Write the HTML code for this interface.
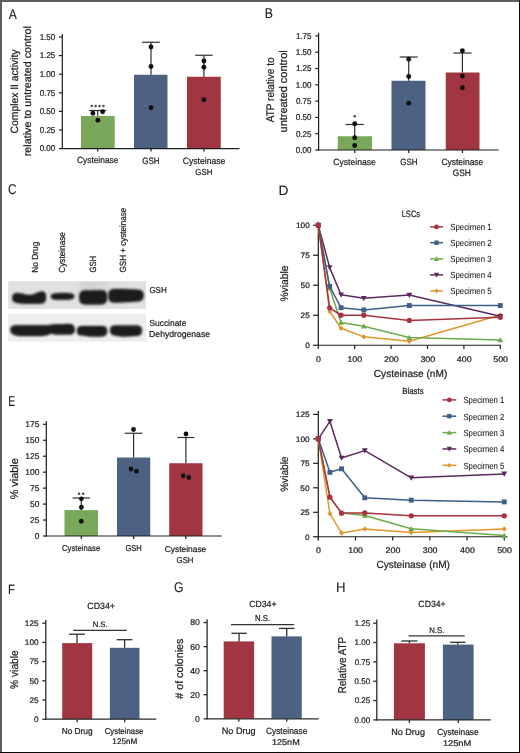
<!DOCTYPE html><html><head><meta charset="utf-8"><style>html,body{margin:0;padding:0;background:#fff;}body{width:520px;height:753px;overflow:hidden;position:relative;}svg{position:absolute;left:0;top:0;display:block;will-change:transform;}text{font-family:"Liberation Sans",sans-serif;text-rendering:geometricPrecision;stroke:#1c1c1c;stroke-width:0.22px;}</style></head><body>
<svg width="520" height="753" viewBox="0 0 520 753">
<defs><filter id="bl" x="-20%" y="-60%" width="140%" height="220%"><feGaussianBlur stdDeviation="0.9"/></filter><filter id="bl2" x="-10%" y="-30%" width="120%" height="160%"><feGaussianBlur stdDeviation="1.6"/></filter><filter id="bl3" x="-50%" y="-50%" width="200%" height="200%"><feGaussianBlur stdDeviation="3"/></filter><clipPath id="cb1"><rect x="8.5" y="281.5" width="137.3" height="27.3"/></clipPath><filter id="bgb" x="-5%" y="-10%" width="110%" height="120%"><feGaussianBlur stdDeviation="0.5"/></filter></defs>
<rect x="0" y="0" width="520" height="753" fill="#fff"/>
<text x="8.66" y="18.58" font-size="13.97" textLength="8.09" lengthAdjust="spacingAndGlyphs" fill="#1c1c1c" style="stroke-width:0.1px">A</text>
<text x="264.71" y="17.6" font-size="14.2" textLength="8.23" lengthAdjust="spacingAndGlyphs" fill="#1c1c1c" style="stroke-width:0.1px">B</text>
<text x="8.11" y="193.9" font-size="14.14" textLength="8.53" lengthAdjust="spacingAndGlyphs" fill="#1c1c1c" style="stroke-width:0.1px">C</text>
<text x="278.6" y="195.1" font-size="13.62" textLength="9.95" lengthAdjust="spacingAndGlyphs" fill="#1c1c1c" style="stroke-width:0.1px">D</text>
<text x="8.16" y="405.9" font-size="14.35" textLength="6.98" lengthAdjust="spacingAndGlyphs" fill="#1c1c1c" style="stroke-width:0.1px">E</text>
<text x="8.09" y="593.9" font-size="13.62" textLength="6.98" lengthAdjust="spacingAndGlyphs" fill="#1c1c1c" style="stroke-width:0.1px">F</text>
<text x="174.09" y="592.4" font-size="14.14" textLength="9.5" lengthAdjust="spacingAndGlyphs" fill="#1c1c1c" style="stroke-width:0.1px">G</text>
<text x="335.94" y="592.3" font-size="13.91" textLength="9.54" lengthAdjust="spacingAndGlyphs" fill="#1c1c1c" style="stroke-width:0.1px">H</text>
<line x1="62.3" y1="34" x2="62.3" y2="149.1" stroke="#1c1c1c" stroke-width="1.2"/>
<line x1="59" y1="148.6" x2="62.3" y2="148.6" stroke="#1c1c1c" stroke-width="1.2"/>
<text x="39.67" y="151.45" font-size="8.45" textLength="15.62" lengthAdjust="spacingAndGlyphs" fill="#1c1c1c">0.00</text>
<line x1="59" y1="130" x2="62.3" y2="130" stroke="#1c1c1c" stroke-width="1.2"/>
<text x="39.71" y="132.85" font-size="8.45" textLength="15.62" lengthAdjust="spacingAndGlyphs" fill="#1c1c1c">0.25</text>
<line x1="59" y1="111.4" x2="62.3" y2="111.4" stroke="#1c1c1c" stroke-width="1.2"/>
<text x="39.67" y="114.25" font-size="8.45" textLength="15.62" lengthAdjust="spacingAndGlyphs" fill="#1c1c1c">0.50</text>
<line x1="59" y1="92.8" x2="62.3" y2="92.8" stroke="#1c1c1c" stroke-width="1.2"/>
<text x="39.71" y="95.65" font-size="8.45" textLength="15.62" lengthAdjust="spacingAndGlyphs" fill="#1c1c1c">0.75</text>
<line x1="59" y1="74.2" x2="62.3" y2="74.2" stroke="#1c1c1c" stroke-width="1.2"/>
<text x="39.67" y="77.05" font-size="8.45" textLength="15.62" lengthAdjust="spacingAndGlyphs" fill="#1c1c1c">1.00</text>
<line x1="59" y1="55.6" x2="62.3" y2="55.6" stroke="#1c1c1c" stroke-width="1.2"/>
<text x="39.71" y="58.45" font-size="8.45" textLength="15.62" lengthAdjust="spacingAndGlyphs" fill="#1c1c1c">1.25</text>
<line x1="59" y1="37" x2="62.3" y2="37" stroke="#1c1c1c" stroke-width="1.2"/>
<text x="39.67" y="39.85" font-size="8.45" textLength="15.62" lengthAdjust="spacingAndGlyphs" fill="#1c1c1c">1.50</text>
<rect x="81" y="116" width="33.75" height="32.6" fill="#79a85b"/>
<rect x="134" y="74.75" width="33.5" height="73.85" fill="#4d6282"/>
<rect x="187" y="76.75" width="33.75" height="71.85" fill="#a13542"/>
<line x1="61.7" y1="148.6" x2="239.5" y2="148.6" stroke="#1c1c1c" stroke-width="1.2"/>
<line x1="97.7" y1="148.6" x2="97.7" y2="151.6" stroke="#1c1c1c" stroke-width="1.2"/>
<line x1="151" y1="148.6" x2="151" y2="151.6" stroke="#1c1c1c" stroke-width="1.2"/>
<line x1="203.9" y1="148.6" x2="203.9" y2="151.6" stroke="#1c1c1c" stroke-width="1.2"/>
<line x1="97.7" y1="110.5" x2="97.7" y2="116" stroke="#2e2e2e" stroke-width="1.2"/>
<line x1="89.1" y1="110.5" x2="106.3" y2="110.5" stroke="#2e2e2e" stroke-width="1.2"/>
<line x1="151" y1="42.25" x2="151" y2="74.75" stroke="#2e2e2e" stroke-width="1.2"/>
<line x1="142.1" y1="42.25" x2="159.9" y2="42.25" stroke="#2e2e2e" stroke-width="1.2"/>
<line x1="203.9" y1="55.25" x2="203.9" y2="76.75" stroke="#2e2e2e" stroke-width="1.2"/>
<line x1="195.15" y1="55.25" x2="212.65" y2="55.25" stroke="#2e2e2e" stroke-width="1.2"/>
<circle cx="92.9" cy="113.2" r="2.45" fill="#111"/>
<circle cx="102.6" cy="111.8" r="2.45" fill="#111"/>
<circle cx="97.9" cy="120.2" r="2.45" fill="#111"/>
<circle cx="151" cy="47" r="2.45" fill="#111"/>
<circle cx="151" cy="66.5" r="2.45" fill="#111"/>
<circle cx="151" cy="107.75" r="2.45" fill="#111"/>
<circle cx="203.9" cy="61" r="2.45" fill="#111"/>
<circle cx="203.9" cy="67.25" r="2.45" fill="#111"/>
<circle cx="203.9" cy="99.75" r="2.45" fill="#111"/>
<circle cx="91.75" cy="105.9" r="1.25" fill="#4a4a4a"/>
<circle cx="95.65" cy="105.9" r="1.25" fill="#4a4a4a"/>
<circle cx="99.55" cy="105.9" r="1.25" fill="#4a4a4a"/>
<circle cx="103.45" cy="105.9" r="1.25" fill="#4a4a4a"/>
<text x="76.98" y="163.3" font-size="9.01" textLength="41.41" lengthAdjust="spacingAndGlyphs" fill="#1c1c1c">Cysteinase</text>
<text x="142.2" y="163.5" font-size="9.3" textLength="17.46" lengthAdjust="spacingAndGlyphs" fill="#1c1c1c">GSH</text>
<text x="182.87" y="163.5" font-size="9.3" textLength="42.33" lengthAdjust="spacingAndGlyphs" fill="#1c1c1c">Cysteinase</text>
<text x="195.3" y="174.7" font-size="8.73" textLength="17.14" lengthAdjust="spacingAndGlyphs" fill="#1c1c1c">GSH</text>
<text x="17.6" y="133.42" font-size="10.7" textLength="83.9" lengthAdjust="spacingAndGlyphs" fill="#1c1c1c" transform="rotate(-90 17.6 133.42)">Complex II activity</text>
<text x="30.9" y="156.2" font-size="10.6" textLength="130.13" lengthAdjust="spacingAndGlyphs" fill="#1c1c1c" transform="rotate(-90 30.9 156.2)">relative to untreated control</text>
<line x1="318.6" y1="32.7" x2="318.6" y2="150.5" stroke="#1c1c1c" stroke-width="1.2"/>
<line x1="315.3" y1="150" x2="318.6" y2="150" stroke="#1c1c1c" stroke-width="1.2"/>
<text x="295.87" y="152.85" font-size="8.45" textLength="15.62" lengthAdjust="spacingAndGlyphs" fill="#1c1c1c">0.00</text>
<line x1="315.3" y1="133.7" x2="318.6" y2="133.7" stroke="#1c1c1c" stroke-width="1.2"/>
<text x="295.91" y="136.55" font-size="8.45" textLength="15.62" lengthAdjust="spacingAndGlyphs" fill="#1c1c1c">0.25</text>
<line x1="315.3" y1="117.4" x2="318.6" y2="117.4" stroke="#1c1c1c" stroke-width="1.2"/>
<text x="295.87" y="120.25" font-size="8.45" textLength="15.62" lengthAdjust="spacingAndGlyphs" fill="#1c1c1c">0.50</text>
<line x1="315.3" y1="101.1" x2="318.6" y2="101.1" stroke="#1c1c1c" stroke-width="1.2"/>
<text x="295.91" y="103.95" font-size="8.45" textLength="15.62" lengthAdjust="spacingAndGlyphs" fill="#1c1c1c">0.75</text>
<line x1="315.3" y1="84.8" x2="318.6" y2="84.8" stroke="#1c1c1c" stroke-width="1.2"/>
<text x="295.87" y="87.65" font-size="8.45" textLength="15.62" lengthAdjust="spacingAndGlyphs" fill="#1c1c1c">1.00</text>
<line x1="315.3" y1="68.5" x2="318.6" y2="68.5" stroke="#1c1c1c" stroke-width="1.2"/>
<text x="295.91" y="71.35" font-size="8.45" textLength="15.62" lengthAdjust="spacingAndGlyphs" fill="#1c1c1c">1.25</text>
<line x1="315.3" y1="52.2" x2="318.6" y2="52.2" stroke="#1c1c1c" stroke-width="1.2"/>
<text x="295.87" y="55.05" font-size="8.45" textLength="15.62" lengthAdjust="spacingAndGlyphs" fill="#1c1c1c">1.50</text>
<line x1="315.3" y1="35.9" x2="318.6" y2="35.9" stroke="#1c1c1c" stroke-width="1.2"/>
<text x="295.91" y="38.75" font-size="8.45" textLength="15.62" lengthAdjust="spacingAndGlyphs" fill="#1c1c1c">1.75</text>
<rect x="337.75" y="136.25" width="34.25" height="13.75" fill="#79a85b"/>
<rect x="391.5" y="80.75" width="34" height="69.25" fill="#4d6282"/>
<rect x="445.75" y="72.5" width="33.75" height="77.5" fill="#a13542"/>
<line x1="318" y1="150" x2="498.6" y2="150" stroke="#1c1c1c" stroke-width="1.2"/>
<line x1="354.7" y1="150" x2="354.7" y2="153" stroke="#1c1c1c" stroke-width="1.2"/>
<line x1="408.7" y1="150" x2="408.7" y2="153" stroke="#1c1c1c" stroke-width="1.2"/>
<line x1="462.4" y1="150" x2="462.4" y2="153" stroke="#1c1c1c" stroke-width="1.2"/>
<line x1="354.7" y1="124.5" x2="354.7" y2="136.25" stroke="#2e2e2e" stroke-width="1.2"/>
<line x1="345.6" y1="124.5" x2="363.8" y2="124.5" stroke="#2e2e2e" stroke-width="1.2"/>
<line x1="408.7" y1="57" x2="408.7" y2="80.75" stroke="#2e2e2e" stroke-width="1.2"/>
<line x1="399.7" y1="57" x2="417.7" y2="57" stroke="#2e2e2e" stroke-width="1.2"/>
<line x1="462.4" y1="53" x2="462.4" y2="72.5" stroke="#2e2e2e" stroke-width="1.2"/>
<line x1="453.3" y1="53" x2="471.5" y2="53" stroke="#2e2e2e" stroke-width="1.2"/>
<circle cx="354.7" cy="123.75" r="2.45" fill="#111"/>
<circle cx="354.7" cy="137.75" r="2.45" fill="#111"/>
<circle cx="354.7" cy="145.5" r="2.45" fill="#111"/>
<circle cx="408.7" cy="59.25" r="2.45" fill="#111"/>
<circle cx="408.7" cy="76.5" r="2.45" fill="#111"/>
<circle cx="408.7" cy="103.25" r="2.45" fill="#111"/>
<circle cx="462.4" cy="50.75" r="2.45" fill="#111"/>
<circle cx="462.4" cy="76" r="2.45" fill="#111"/>
<circle cx="462.4" cy="87.75" r="2.45" fill="#111"/>
<circle cx="354.7" cy="116.3" r="1.25" fill="#4a4a4a"/>
<text x="333.37" y="164.7" font-size="9.01" textLength="42.33" lengthAdjust="spacingAndGlyphs" fill="#1c1c1c">Cysteinase</text>
<text x="400.2" y="164.7" font-size="9.01" textLength="17.36" lengthAdjust="spacingAndGlyphs" fill="#1c1c1c">GSH</text>
<text x="441.38" y="164.8" font-size="9.15" textLength="41.92" lengthAdjust="spacingAndGlyphs" fill="#1c1c1c">Cysteinase</text>
<text x="452.68" y="175.8" font-size="9.3" textLength="18.1" lengthAdjust="spacingAndGlyphs" fill="#1c1c1c">GSH</text>
<text x="274.1" y="122.2" font-size="11.1" textLength="64.71" lengthAdjust="spacingAndGlyphs" fill="#1c1c1c" transform="rotate(-90 274.1 122.2)">ATP relative to</text>
<text x="287.4" y="132.41" font-size="11.1" textLength="82.12" lengthAdjust="spacingAndGlyphs" fill="#1c1c1c" transform="rotate(-90 287.4 132.41)">untreated control</text>
<text x="38" y="272.77" font-size="8.8" textLength="31.2" lengthAdjust="spacingAndGlyphs" fill="#1c1c1c" transform="rotate(-90 38 272.77)">No Drug</text>
<text x="65.4" y="272.71" font-size="8.9" textLength="40.59" lengthAdjust="spacingAndGlyphs" fill="#1c1c1c" transform="rotate(-90 65.4 272.71)">Cysteinase</text>
<text x="96.2" y="272.48" font-size="9" textLength="16.61" lengthAdjust="spacingAndGlyphs" fill="#1c1c1c" transform="rotate(-90 96.2 272.48)">GSH</text>
<text x="126.2" y="272.5" font-size="9" textLength="64.78" lengthAdjust="spacingAndGlyphs" fill="#1c1c1c" transform="rotate(-90 126.2 272.5)">GSH + cysteinase</text>
<g filter="url(#bgb)">
<rect x="8.2" y="281.2" width="137.8" height="27.8" fill="#e1e1e1"/>
<rect x="8.2" y="314" width="137.8" height="27.7" fill="#ededed"/>
</g>
<g clip-path="url(#cb1)"><rect x="80" y="279" width="27" height="17" fill="#d4d4d4" filter="url(#bl3)"/></g>
<g filter="url(#bl2)" fill="#555" opacity="0.35">
<path d="M12.3,298 C12.3,294 14.5,293 18,293 C22,293.2 25,294.9 30,294.9 C35,294.9 38,291.6 42,291.6 C45.2,291.6 46,293.8 46,297 C46,301.3 44.8,303.6 40,303.8 C30,304 20,303.8 16,302.7 C13,301.9 12.3,300.3 12.3,298 Z"/>
<path d="M50.8,296.4 C50.8,293.9 54,293.1 62,293.1 C70,293.1 74.2,293.6 74.2,296.4 C74.2,299.1 70,299.7 62,299.7 C54,299.7 50.8,299 50.8,296.4 Z"/>
<path d="M79.2,297.5 C79.2,292 81,290.6 86,290.5 C92,290.4 98,290.3 102,290.3 C106.2,290.4 107,293 107,297.5 C107,302.6 105.5,304.3 100,304.4 L86,304.4 C81,304.4 79.2,302.8 79.2,297.5 Z"/>
<path d="M108.3,295.6 C108.3,290.2 110.5,289 116,289 C125,289 133,289.3 138.5,289.8 C142.8,290.4 143.6,292.6 143.6,295.6 C143.6,299.4 142,301.3 137,301.5 C128,302 120,302.6 114,302.6 C109.8,302.6 108.3,300.5 108.3,295.6 Z"/>
<path d="M10.4,330 C10.4,326.3 12.5,325.3 18,325.3 L46,325.3 C50,325.3 52,324.2 56,324.2 L64,324.2 C68,323.9 70,323.7 72,324.4 C74.3,325.3 74.8,327.5 74.8,329.5 C74.8,332.7 73.2,334.5 69,334.5 L56,334.5 C53,334.5 52,333.6 50,333.8 C47,335.8 44,336 38,336 L22,336 C16,335.8 10.4,334.9 10.4,330 Z"/>
<path d="M77,330.8 C77,326.8 79,325.9 83,325.9 L101,325.9 C105.7,325.9 107.2,327.3 107.2,331 C107.2,335 105.2,336.5 100,336.5 L90,336.5 C87,336.5 86,335.6 83,335.6 C78.8,335.6 77,334.5 77,330.8 Z"/>
<path d="M110,330.4 C110,326.6 112,325.6 116,325.6 L136,325.6 C140.7,325.6 141.9,327.3 141.9,330.8 C141.9,334.5 140.2,335.9 135,336.1 C128,336.5 122,336.6 118,335.9 C112.8,335.3 110,334 110,330.4 Z"/>
</g>
<g filter="url(#bl)" fill="#1d1d1d">
<path d="M12.3,298 C12.3,294 14.5,293 18,293 C22,293.2 25,294.9 30,294.9 C35,294.9 38,291.6 42,291.6 C45.2,291.6 46,293.8 46,297 C46,301.3 44.8,303.6 40,303.8 C30,304 20,303.8 16,302.7 C13,301.9 12.3,300.3 12.3,298 Z"/>
<path d="M50.8,296.4 C50.8,293.9 54,293.1 62,293.1 C70,293.1 74.2,293.6 74.2,296.4 C74.2,299.1 70,299.7 62,299.7 C54,299.7 50.8,299 50.8,296.4 Z"/>
<path d="M79.2,297.5 C79.2,292 81,290.6 86,290.5 C92,290.4 98,290.3 102,290.3 C106.2,290.4 107,293 107,297.5 C107,302.6 105.5,304.3 100,304.4 L86,304.4 C81,304.4 79.2,302.8 79.2,297.5 Z"/>
<path d="M108.3,295.6 C108.3,290.2 110.5,289 116,289 C125,289 133,289.3 138.5,289.8 C142.8,290.4 143.6,292.6 143.6,295.6 C143.6,299.4 142,301.3 137,301.5 C128,302 120,302.6 114,302.6 C109.8,302.6 108.3,300.5 108.3,295.6 Z"/>
<path d="M10.4,330 C10.4,326.3 12.5,325.3 18,325.3 L46,325.3 C50,325.3 52,324.2 56,324.2 L64,324.2 C68,323.9 70,323.7 72,324.4 C74.3,325.3 74.8,327.5 74.8,329.5 C74.8,332.7 73.2,334.5 69,334.5 L56,334.5 C53,334.5 52,333.6 50,333.8 C47,335.8 44,336 38,336 L22,336 C16,335.8 10.4,334.9 10.4,330 Z"/>
<path d="M77,330.8 C77,326.8 79,325.9 83,325.9 L101,325.9 C105.7,325.9 107.2,327.3 107.2,331 C107.2,335 105.2,336.5 100,336.5 L90,336.5 C87,336.5 86,335.6 83,335.6 C78.8,335.6 77,334.5 77,330.8 Z"/>
<path d="M110,330.4 C110,326.6 112,325.6 116,325.6 L136,325.6 C140.7,325.6 141.9,327.3 141.9,330.8 C141.9,334.5 140.2,335.9 135,336.1 C128,336.5 122,336.6 118,335.9 C112.8,335.3 110,334 110,330.4 Z"/>
</g>
<text x="149.4" y="292.5" font-size="8.7" textLength="17.36" lengthAdjust="spacingAndGlyphs" fill="#1c1c1c">GSH</text>
<text x="149.42" y="325.9" font-size="8.7" textLength="36.97" lengthAdjust="spacingAndGlyphs" fill="#1c1c1c">Succinate</text>
<text x="149.11" y="336.8" font-size="8.7" textLength="60.88" lengthAdjust="spacingAndGlyphs" fill="#1c1c1c">Dehydrogenase</text>
<line x1="318.3" y1="221.7" x2="318.3" y2="345.25" stroke="#1c1c1c" stroke-width="1.2"/>
<line x1="313.1" y1="345.25" x2="318.3" y2="345.25" stroke="#1c1c1c" stroke-width="1.2"/>
<text x="305.19" y="348" font-size="7.9" textLength="4.61" lengthAdjust="spacingAndGlyphs" fill="#1c1c1c">0</text>
<line x1="313.1" y1="315.25" x2="318.3" y2="315.25" stroke="#1c1c1c" stroke-width="1.2"/>
<text x="300.62" y="318" font-size="7.9" textLength="9.23" lengthAdjust="spacingAndGlyphs" fill="#1c1c1c">25</text>
<line x1="313.1" y1="285.25" x2="318.3" y2="285.25" stroke="#1c1c1c" stroke-width="1.2"/>
<text x="300.58" y="288" font-size="7.9" textLength="9.23" lengthAdjust="spacingAndGlyphs" fill="#1c1c1c">50</text>
<line x1="313.1" y1="255.25" x2="318.3" y2="255.25" stroke="#1c1c1c" stroke-width="1.2"/>
<text x="300.62" y="258" font-size="7.9" textLength="9.23" lengthAdjust="spacingAndGlyphs" fill="#1c1c1c">75</text>
<line x1="313.1" y1="225.25" x2="318.3" y2="225.25" stroke="#1c1c1c" stroke-width="1.2"/>
<text x="295.98" y="228" font-size="7.9" textLength="13.84" lengthAdjust="spacingAndGlyphs" fill="#1c1c1c">100</text>
<line x1="317.7" y1="345.25" x2="500.9" y2="345.25" stroke="#1c1c1c" stroke-width="1.2"/>
<line x1="318.3" y1="345.25" x2="318.3" y2="349.05" stroke="#1c1c1c" stroke-width="1.2"/>
<text x="316.12" y="362" font-size="8.2" textLength="4.93" lengthAdjust="spacingAndGlyphs" fill="#1c1c1c">0</text>
<line x1="354.7" y1="345.25" x2="354.7" y2="349.05" stroke="#1c1c1c" stroke-width="1.2"/>
<text x="347.45" y="362" font-size="8.2" textLength="14.78" lengthAdjust="spacingAndGlyphs" fill="#1c1c1c">100</text>
<line x1="391.1" y1="345.25" x2="391.1" y2="349.05" stroke="#1c1c1c" stroke-width="1.2"/>
<text x="383.96" y="362" font-size="8.2" textLength="14.78" lengthAdjust="spacingAndGlyphs" fill="#1c1c1c">200</text>
<line x1="427.5" y1="345.25" x2="427.5" y2="349.05" stroke="#1c1c1c" stroke-width="1.2"/>
<text x="420.41" y="362" font-size="8.2" textLength="14.78" lengthAdjust="spacingAndGlyphs" fill="#1c1c1c">300</text>
<line x1="463.9" y1="345.25" x2="463.9" y2="349.05" stroke="#1c1c1c" stroke-width="1.2"/>
<text x="456.89" y="362" font-size="8.2" textLength="14.78" lengthAdjust="spacingAndGlyphs" fill="#1c1c1c">400</text>
<line x1="500.3" y1="345.25" x2="500.3" y2="349.05" stroke="#1c1c1c" stroke-width="1.2"/>
<text x="493.21" y="362" font-size="8.2" textLength="14.78" lengthAdjust="spacingAndGlyphs" fill="#1c1c1c">500</text>
<polyline points="318.3,225.25 329.68,311.41 341.05,328.21 363.8,336.85 409.3,341.29 500.3,315.01" fill="none" stroke="#e0962c" stroke-width="1.5" stroke-linejoin="round"/>
<path d="M318.3,222.56 L320.75,225.25 L318.3,227.94 L315.85,225.25 Z" fill="#e0962c"/>
<path d="M329.68,308.72 L332.12,311.41 L329.68,314.11 L327.23,311.41 Z" fill="#e0962c"/>
<path d="M341.05,325.51 L343.5,328.21 L341.05,330.9 L338.6,328.21 Z" fill="#e0962c"/>
<path d="M363.8,334.16 L366.25,336.85 L363.8,339.55 L361.35,336.85 Z" fill="#e0962c"/>
<path d="M409.3,338.6 L411.75,341.29 L409.3,343.99 L406.85,341.29 Z" fill="#e0962c"/>
<path d="M500.3,312.31 L502.75,315.01 L500.3,317.7 L497.85,315.01 Z" fill="#e0962c"/>
<polyline points="318.3,225.25 329.68,267.49 341.05,294.85 363.8,298.33 409.3,295.09 500.3,316.21" fill="none" stroke="#5a2b5c" stroke-width="1.5" stroke-linejoin="round"/>
<path d="M318.3,228.07 L321.24,222.92 L315.36,222.92 Z" fill="#5a2b5c"/>
<path d="M329.68,270.31 L332.62,265.16 L326.74,265.16 Z" fill="#5a2b5c"/>
<path d="M341.05,297.67 L343.99,292.52 L338.11,292.52 Z" fill="#5a2b5c"/>
<path d="M363.8,301.15 L366.74,296 L360.86,296 Z" fill="#5a2b5c"/>
<path d="M409.3,297.91 L412.24,292.76 L406.36,292.76 Z" fill="#5a2b5c"/>
<path d="M500.3,319.03 L503.24,313.88 L497.36,313.88 Z" fill="#5a2b5c"/>
<polyline points="318.3,225.25 329.68,288.25 341.05,322.45 363.8,326.17 409.3,337.57 500.3,339.97" fill="none" stroke="#6cab4c" stroke-width="1.5" stroke-linejoin="round"/>
<path d="M318.3,222.43 L321.24,227.58 L315.36,227.58 Z" fill="#6cab4c"/>
<path d="M329.68,285.43 L332.62,290.58 L326.74,290.58 Z" fill="#6cab4c"/>
<path d="M341.05,319.63 L343.99,324.78 L338.11,324.78 Z" fill="#6cab4c"/>
<path d="M363.8,323.35 L366.74,328.5 L360.86,328.5 Z" fill="#6cab4c"/>
<path d="M409.3,334.75 L412.24,339.9 L406.36,339.9 Z" fill="#6cab4c"/>
<path d="M500.3,337.15 L503.24,342.3 L497.36,342.3 Z" fill="#6cab4c"/>
<polyline points="318.3,225.25 329.68,286.45 341.05,307.69 363.8,309.97 409.3,305.53 500.3,305.53" fill="none" stroke="#3e5f87" stroke-width="1.5" stroke-linejoin="round"/>
<rect x="315.85" y="222.8" width="4.9" height="4.9" fill="#3e5f87"/>
<rect x="327.23" y="284" width="4.9" height="4.9" fill="#3e5f87"/>
<rect x="338.6" y="305.24" width="4.9" height="4.9" fill="#3e5f87"/>
<rect x="361.35" y="307.52" width="4.9" height="4.9" fill="#3e5f87"/>
<rect x="406.85" y="303.08" width="4.9" height="4.9" fill="#3e5f87"/>
<rect x="497.85" y="303.08" width="4.9" height="4.9" fill="#3e5f87"/>
<polyline points="318.3,225.25 329.68,307.81 341.05,315.25 363.8,315.25 409.3,320.41 500.3,317.29" fill="none" stroke="#a8323f" stroke-width="1.5" stroke-linejoin="round"/>
<circle cx="318.3" cy="225.25" r="2.65" fill="#a8323f"/>
<circle cx="329.68" cy="307.81" r="2.65" fill="#a8323f"/>
<circle cx="341.05" cy="315.25" r="2.65" fill="#a8323f"/>
<circle cx="363.8" cy="315.25" r="2.65" fill="#a8323f"/>
<circle cx="409.3" cy="320.41" r="2.65" fill="#a8323f"/>
<circle cx="500.3" cy="317.29" r="2.65" fill="#a8323f"/>
<text x="373.8" y="376.9" font-size="10.2" textLength="73.46" lengthAdjust="spacingAndGlyphs" fill="#1c1c1c">Cysteinase (nM)</text>
<text x="401.7" y="216.8" font-size="9.29" textLength="18.37" lengthAdjust="spacingAndGlyphs" fill="#1c1c1c">LSCs</text>
<line x1="430.1" y1="226.9" x2="443" y2="226.9" stroke="#a8323f" stroke-width="1.5"/>
<circle cx="436.5" cy="226.9" r="2.38" fill="#a8323f"/>
<text x="450.25" y="230.3" font-size="8.9" textLength="41.41" lengthAdjust="spacingAndGlyphs" fill="#1c1c1c" style="stroke-width:0.08px">Specimen 1</text>
<line x1="430.1" y1="242.7" x2="443" y2="242.7" stroke="#3e5f87" stroke-width="1.5"/>
<rect x="434.3" y="240.5" width="4.4" height="4.4" fill="#3e5f87"/>
<text x="450.25" y="246.1" font-size="8.9" textLength="41.45" lengthAdjust="spacingAndGlyphs" fill="#1c1c1c" style="stroke-width:0.08px">Specimen 2</text>
<line x1="430.1" y1="258.9" x2="443" y2="258.9" stroke="#6cab4c" stroke-width="1.5"/>
<path d="M436.5,256.37 L439.14,260.99 L433.86,260.99 Z" fill="#6cab4c"/>
<text x="450.25" y="262.3" font-size="8.9" textLength="41.37" lengthAdjust="spacingAndGlyphs" fill="#1c1c1c" style="stroke-width:0.08px">Specimen 3</text>
<line x1="430.1" y1="274.9" x2="443" y2="274.9" stroke="#5a2b5c" stroke-width="1.5"/>
<path d="M436.5,277.43 L439.14,272.81 L433.86,272.81 Z" fill="#5a2b5c"/>
<text x="450.25" y="278.3" font-size="8.9" textLength="41.29" lengthAdjust="spacingAndGlyphs" fill="#1c1c1c" style="stroke-width:0.08px">Specimen 4</text>
<line x1="430.1" y1="290.9" x2="443" y2="290.9" stroke="#e0962c" stroke-width="1.5"/>
<path d="M436.5,288.48 L438.7,290.9 L436.5,293.32 L434.3,290.9 Z" fill="#e0962c"/>
<text x="450.25" y="294.3" font-size="8.9" textLength="41.37" lengthAdjust="spacingAndGlyphs" fill="#1c1c1c" style="stroke-width:0.08px">Specimen 5</text>
<text x="288" y="301.61" font-size="10.9" textLength="36.1" lengthAdjust="spacingAndGlyphs" fill="#1c1c1c" transform="rotate(-90 288 301.61)">%viable</text>
<line x1="318.3" y1="410.7" x2="318.3" y2="536.75" stroke="#1c1c1c" stroke-width="1.2"/>
<line x1="313.1" y1="536.75" x2="318.3" y2="536.75" stroke="#1c1c1c" stroke-width="1.2"/>
<text x="304.99" y="539.5" font-size="7.9" textLength="4.61" lengthAdjust="spacingAndGlyphs" fill="#1c1c1c">0</text>
<line x1="313.1" y1="512.28" x2="318.3" y2="512.28" stroke="#1c1c1c" stroke-width="1.2"/>
<text x="300.42" y="515.03" font-size="7.9" textLength="9.23" lengthAdjust="spacingAndGlyphs" fill="#1c1c1c">25</text>
<line x1="313.1" y1="487.81" x2="318.3" y2="487.81" stroke="#1c1c1c" stroke-width="1.2"/>
<text x="300.38" y="490.56" font-size="7.9" textLength="9.23" lengthAdjust="spacingAndGlyphs" fill="#1c1c1c">50</text>
<line x1="313.1" y1="463.34" x2="318.3" y2="463.34" stroke="#1c1c1c" stroke-width="1.2"/>
<text x="300.42" y="466.09" font-size="7.9" textLength="9.23" lengthAdjust="spacingAndGlyphs" fill="#1c1c1c">75</text>
<line x1="313.1" y1="438.87" x2="318.3" y2="438.87" stroke="#1c1c1c" stroke-width="1.2"/>
<text x="295.78" y="441.62" font-size="7.9" textLength="13.84" lengthAdjust="spacingAndGlyphs" fill="#1c1c1c">100</text>
<line x1="313.1" y1="414.4" x2="318.3" y2="414.4" stroke="#1c1c1c" stroke-width="1.2"/>
<text x="295.82" y="417.15" font-size="7.9" textLength="13.84" lengthAdjust="spacingAndGlyphs" fill="#1c1c1c">125</text>
<line x1="317.7" y1="536.75" x2="507.5" y2="536.75" stroke="#1c1c1c" stroke-width="1.2"/>
<line x1="318.3" y1="536.75" x2="318.3" y2="540.55" stroke="#1c1c1c" stroke-width="1.2"/>
<text x="316.12" y="553" font-size="8.2" textLength="4.93" lengthAdjust="spacingAndGlyphs" fill="#1c1c1c">0</text>
<line x1="355.49" y1="536.75" x2="355.49" y2="540.55" stroke="#1c1c1c" stroke-width="1.2"/>
<text x="348.24" y="553" font-size="8.2" textLength="14.78" lengthAdjust="spacingAndGlyphs" fill="#1c1c1c">100</text>
<line x1="392.68" y1="536.75" x2="392.68" y2="540.55" stroke="#1c1c1c" stroke-width="1.2"/>
<text x="385.54" y="553" font-size="8.2" textLength="14.78" lengthAdjust="spacingAndGlyphs" fill="#1c1c1c">200</text>
<line x1="429.87" y1="536.75" x2="429.87" y2="540.55" stroke="#1c1c1c" stroke-width="1.2"/>
<text x="422.78" y="553" font-size="8.2" textLength="14.78" lengthAdjust="spacingAndGlyphs" fill="#1c1c1c">300</text>
<line x1="467.06" y1="536.75" x2="467.06" y2="540.55" stroke="#1c1c1c" stroke-width="1.2"/>
<text x="460.05" y="553" font-size="8.2" textLength="14.78" lengthAdjust="spacingAndGlyphs" fill="#1c1c1c">400</text>
<line x1="504.25" y1="536.75" x2="504.25" y2="540.55" stroke="#1c1c1c" stroke-width="1.2"/>
<text x="497.16" y="553" font-size="8.2" textLength="14.78" lengthAdjust="spacingAndGlyphs" fill="#1c1c1c">500</text>
<polyline points="318.3,438.87 329.92,513.65 341.54,533.03 364.79,529.02 411.27,532.54 504.25,529.02" fill="none" stroke="#e0962c" stroke-width="1.5" stroke-linejoin="round"/>
<path d="M318.3,436.18 L320.75,438.87 L318.3,441.56 L315.85,438.87 Z" fill="#e0962c"/>
<path d="M329.92,510.96 L332.37,513.65 L329.92,516.35 L327.47,513.65 Z" fill="#e0962c"/>
<path d="M341.54,530.34 L343.99,533.03 L341.54,535.73 L339.09,533.03 Z" fill="#e0962c"/>
<path d="M364.79,526.32 L367.24,529.02 L364.79,531.71 L362.34,529.02 Z" fill="#e0962c"/>
<path d="M411.27,529.85 L413.72,532.54 L411.27,535.24 L408.82,532.54 Z" fill="#e0962c"/>
<path d="M504.25,526.32 L506.7,529.02 L504.25,531.71 L501.8,529.02 Z" fill="#e0962c"/>
<polyline points="318.3,438.87 329.92,421.45 341.54,458.05 364.79,450.62 411.27,477.83 504.25,473.91" fill="none" stroke="#5a2b5c" stroke-width="1.5" stroke-linejoin="round"/>
<path d="M318.3,441.69 L321.24,436.54 L315.36,436.54 Z" fill="#5a2b5c"/>
<path d="M329.92,424.26 L332.86,419.12 L326.98,419.12 Z" fill="#5a2b5c"/>
<path d="M341.54,460.87 L344.48,455.73 L338.6,455.73 Z" fill="#5a2b5c"/>
<path d="M364.79,453.43 L367.73,448.29 L361.85,448.29 Z" fill="#5a2b5c"/>
<path d="M411.27,480.64 L414.21,475.5 L408.33,475.5 Z" fill="#5a2b5c"/>
<path d="M504.25,476.73 L507.19,471.58 L501.31,471.58 Z" fill="#5a2b5c"/>
<polyline points="318.3,438.87 329.92,497.11 341.54,513.06 364.79,515.41 411.27,528.82 504.25,535.48" fill="none" stroke="#6cab4c" stroke-width="1.5" stroke-linejoin="round"/>
<path d="M318.3,436.05 L321.24,441.2 L315.36,441.2 Z" fill="#6cab4c"/>
<path d="M329.92,494.29 L332.86,499.44 L326.98,499.44 Z" fill="#6cab4c"/>
<path d="M341.54,510.25 L344.48,515.39 L338.6,515.39 Z" fill="#6cab4c"/>
<path d="M364.79,512.59 L367.73,517.74 L361.85,517.74 Z" fill="#6cab4c"/>
<path d="M411.27,526 L414.21,531.15 L408.33,531.15 Z" fill="#6cab4c"/>
<path d="M504.25,532.66 L507.19,537.81 L501.31,537.81 Z" fill="#6cab4c"/>
<polyline points="318.3,438.87 329.92,472.34 341.54,468.82 364.79,497.79 411.27,500.14 504.25,501.9" fill="none" stroke="#3e5f87" stroke-width="1.5" stroke-linejoin="round"/>
<rect x="315.85" y="436.42" width="4.9" height="4.9" fill="#3e5f87"/>
<rect x="327.47" y="469.89" width="4.9" height="4.9" fill="#3e5f87"/>
<rect x="339.09" y="466.37" width="4.9" height="4.9" fill="#3e5f87"/>
<rect x="362.34" y="495.34" width="4.9" height="4.9" fill="#3e5f87"/>
<rect x="408.82" y="497.69" width="4.9" height="4.9" fill="#3e5f87"/>
<rect x="501.8" y="499.45" width="4.9" height="4.9" fill="#3e5f87"/>
<polyline points="318.3,438.87 329.92,497.11 341.54,513.06 364.79,512.97 411.27,515.8 504.25,515.8" fill="none" stroke="#a8323f" stroke-width="1.5" stroke-linejoin="round"/>
<circle cx="318.3" cy="438.87" r="2.65" fill="#a8323f"/>
<circle cx="329.92" cy="497.11" r="2.65" fill="#a8323f"/>
<circle cx="341.54" cy="513.06" r="2.65" fill="#a8323f"/>
<circle cx="364.79" cy="512.97" r="2.65" fill="#a8323f"/>
<circle cx="411.27" cy="515.8" r="2.65" fill="#a8323f"/>
<circle cx="504.25" cy="515.8" r="2.65" fill="#a8323f"/>
<text x="376.39" y="568" font-size="10.4" textLength="73.56" lengthAdjust="spacingAndGlyphs" fill="#1c1c1c">Cysteinase (nM)</text>
<text x="402.27" y="394.25" font-size="8.76" textLength="21.39" lengthAdjust="spacingAndGlyphs" fill="#1c1c1c">Blasts</text>
<line x1="442.5" y1="399.9" x2="456.3" y2="399.9" stroke="#a8323f" stroke-width="1.5"/>
<circle cx="449.3" cy="399.9" r="2.38" fill="#a8323f"/>
<text x="463.45" y="403.3" font-size="8.9" textLength="40.9" lengthAdjust="spacingAndGlyphs" fill="#1c1c1c" style="stroke-width:0.08px">Specimen 1</text>
<line x1="442.5" y1="416.2" x2="456.3" y2="416.2" stroke="#3e5f87" stroke-width="1.5"/>
<rect x="447.1" y="414" width="4.4" height="4.4" fill="#3e5f87"/>
<text x="463.45" y="419.6" font-size="8.9" textLength="40.94" lengthAdjust="spacingAndGlyphs" fill="#1c1c1c" style="stroke-width:0.08px">Specimen 2</text>
<line x1="442.5" y1="432.6" x2="456.3" y2="432.6" stroke="#6cab4c" stroke-width="1.5"/>
<path d="M449.3,430.07 L451.94,434.69 L446.66,434.69 Z" fill="#6cab4c"/>
<text x="463.45" y="436" font-size="8.9" textLength="40.87" lengthAdjust="spacingAndGlyphs" fill="#1c1c1c" style="stroke-width:0.08px">Specimen 3</text>
<line x1="442.5" y1="448.95" x2="456.3" y2="448.95" stroke="#5a2b5c" stroke-width="1.5"/>
<path d="M449.3,451.48 L451.94,446.86 L446.66,446.86 Z" fill="#5a2b5c"/>
<text x="463.45" y="452.35" font-size="8.9" textLength="40.79" lengthAdjust="spacingAndGlyphs" fill="#1c1c1c" style="stroke-width:0.08px">Specimen 4</text>
<line x1="442.5" y1="465.3" x2="456.3" y2="465.3" stroke="#e0962c" stroke-width="1.5"/>
<path d="M449.3,462.88 L451.5,465.3 L449.3,467.72 L447.1,465.3 Z" fill="#e0962c"/>
<text x="463.45" y="468.7" font-size="8.9" textLength="40.87" lengthAdjust="spacingAndGlyphs" fill="#1c1c1c" style="stroke-width:0.08px">Specimen 5</text>
<text x="288" y="491.85" font-size="10.8" textLength="35.33" lengthAdjust="spacingAndGlyphs" fill="#1c1c1c" transform="rotate(-90 288 491.85)">%viable</text>
<line x1="46.3" y1="421" x2="46.3" y2="536.5" stroke="#1c1c1c" stroke-width="1.2"/>
<line x1="43" y1="536" x2="46.3" y2="536" stroke="#1c1c1c" stroke-width="1.2"/>
<text x="34.71" y="538.85" font-size="8.45" textLength="4.7" lengthAdjust="spacingAndGlyphs" fill="#1c1c1c">0</text>
<line x1="43" y1="520.04" x2="46.3" y2="520.04" stroke="#1c1c1c" stroke-width="1.2"/>
<text x="30.06" y="522.89" font-size="8.45" textLength="9.4" lengthAdjust="spacingAndGlyphs" fill="#1c1c1c">25</text>
<line x1="43" y1="504.09" x2="46.3" y2="504.09" stroke="#1c1c1c" stroke-width="1.2"/>
<text x="30.02" y="506.94" font-size="8.45" textLength="9.4" lengthAdjust="spacingAndGlyphs" fill="#1c1c1c">50</text>
<line x1="43" y1="488.13" x2="46.3" y2="488.13" stroke="#1c1c1c" stroke-width="1.2"/>
<text x="30.06" y="490.98" font-size="8.45" textLength="9.4" lengthAdjust="spacingAndGlyphs" fill="#1c1c1c">75</text>
<line x1="43" y1="472.17" x2="46.3" y2="472.17" stroke="#1c1c1c" stroke-width="1.2"/>
<text x="25.33" y="475.02" font-size="8.45" textLength="14.1" lengthAdjust="spacingAndGlyphs" fill="#1c1c1c">100</text>
<line x1="43" y1="456.21" x2="46.3" y2="456.21" stroke="#1c1c1c" stroke-width="1.2"/>
<text x="25.37" y="459.06" font-size="8.45" textLength="14.1" lengthAdjust="spacingAndGlyphs" fill="#1c1c1c">125</text>
<line x1="43" y1="440.26" x2="46.3" y2="440.26" stroke="#1c1c1c" stroke-width="1.2"/>
<text x="25.33" y="443.11" font-size="8.45" textLength="14.1" lengthAdjust="spacingAndGlyphs" fill="#1c1c1c">150</text>
<line x1="43" y1="424.3" x2="46.3" y2="424.3" stroke="#1c1c1c" stroke-width="1.2"/>
<text x="25.37" y="427.15" font-size="8.45" textLength="14.1" lengthAdjust="spacingAndGlyphs" fill="#1c1c1c">175</text>
<rect x="64.5" y="510.1" width="33.5" height="25.9" fill="#79a85b"/>
<rect x="117" y="457.5" width="33.25" height="78.5" fill="#4d6282"/>
<rect x="169.25" y="463.25" width="33.25" height="72.75" fill="#a13542"/>
<line x1="45.7" y1="536" x2="221.75" y2="536" stroke="#1c1c1c" stroke-width="1.2"/>
<line x1="81.3" y1="536" x2="81.3" y2="539" stroke="#1c1c1c" stroke-width="1.2"/>
<line x1="133.6" y1="536" x2="133.6" y2="539" stroke="#1c1c1c" stroke-width="1.2"/>
<line x1="185.8" y1="536" x2="185.8" y2="539" stroke="#1c1c1c" stroke-width="1.2"/>
<line x1="81.3" y1="498" x2="81.3" y2="510.1" stroke="#2e2e2e" stroke-width="1.2"/>
<line x1="72.6" y1="498" x2="90" y2="498" stroke="#2e2e2e" stroke-width="1.2"/>
<line x1="133.6" y1="433.25" x2="133.6" y2="457.5" stroke="#2e2e2e" stroke-width="1.2"/>
<line x1="124.85" y1="433.25" x2="142.35" y2="433.25" stroke="#2e2e2e" stroke-width="1.2"/>
<line x1="185.9" y1="437.5" x2="185.9" y2="463.25" stroke="#2e2e2e" stroke-width="1.2"/>
<line x1="177.4" y1="437.5" x2="194.4" y2="437.5" stroke="#2e2e2e" stroke-width="1.2"/>
<circle cx="81.4" cy="498.8" r="2.4" fill="#111"/>
<circle cx="81.4" cy="507.2" r="2.4" fill="#111"/>
<circle cx="81.3" cy="521.25" r="2.4" fill="#111"/>
<circle cx="133.5" cy="429.5" r="2.4" fill="#111"/>
<circle cx="131" cy="469" r="2.4" fill="#111"/>
<circle cx="136.5" cy="471.25" r="2.4" fill="#111"/>
<circle cx="186" cy="434" r="2.4" fill="#111"/>
<circle cx="183.25" cy="475.75" r="2.4" fill="#111"/>
<circle cx="188.75" cy="477.5" r="2.4" fill="#111"/>
<circle cx="79.1" cy="493.7" r="1.25" fill="#4a4a4a"/>
<circle cx="83.2" cy="493.7" r="1.25" fill="#4a4a4a"/>
<text x="61.91" y="551" font-size="8.59" textLength="38.35" lengthAdjust="spacingAndGlyphs" fill="#1c1c1c">Cysteinase</text>
<text x="125.42" y="551" font-size="8.59" textLength="16.29" lengthAdjust="spacingAndGlyphs" fill="#1c1c1c">GSH</text>
<text x="164.78" y="551.6" font-size="8.59" textLength="41.51" lengthAdjust="spacingAndGlyphs" fill="#1c1c1c">Cysteinase</text>
<text x="176.61" y="562.5" font-size="8.45" textLength="16.83" lengthAdjust="spacingAndGlyphs" fill="#1c1c1c">GSH</text>
<text x="17.8" y="499.28" font-size="11" textLength="40.97" lengthAdjust="spacingAndGlyphs" fill="#1c1c1c" transform="rotate(-90 17.8 499.28)">% viable</text>
<line x1="45.8" y1="619.9" x2="45.8" y2="719.7" stroke="#2a2a2a" stroke-width="1.3"/>
<line x1="42.3" y1="719.2" x2="45.8" y2="719.2" stroke="#2a2a2a" stroke-width="1.3"/>
<text x="34" y="722.05" font-size="8.1" textLength="4.6" lengthAdjust="spacingAndGlyphs" fill="#1c1c1c">0</text>
<line x1="42.3" y1="700" x2="45.8" y2="700" stroke="#2a2a2a" stroke-width="1.3"/>
<text x="29.46" y="702.85" font-size="8.1" textLength="9.19" lengthAdjust="spacingAndGlyphs" fill="#1c1c1c">25</text>
<line x1="42.3" y1="680.8" x2="45.8" y2="680.8" stroke="#2a2a2a" stroke-width="1.3"/>
<text x="29.42" y="683.65" font-size="8.1" textLength="9.19" lengthAdjust="spacingAndGlyphs" fill="#1c1c1c">50</text>
<line x1="42.3" y1="661.6" x2="45.8" y2="661.6" stroke="#2a2a2a" stroke-width="1.3"/>
<text x="29.46" y="664.45" font-size="8.1" textLength="9.19" lengthAdjust="spacingAndGlyphs" fill="#1c1c1c">75</text>
<line x1="42.3" y1="642.4" x2="45.8" y2="642.4" stroke="#2a2a2a" stroke-width="1.3"/>
<text x="24.83" y="645.25" font-size="8.1" textLength="13.79" lengthAdjust="spacingAndGlyphs" fill="#1c1c1c">100</text>
<line x1="42.3" y1="623.2" x2="45.8" y2="623.2" stroke="#2a2a2a" stroke-width="1.3"/>
<text x="24.87" y="626.05" font-size="8.1" textLength="13.79" lengthAdjust="spacingAndGlyphs" fill="#1c1c1c">125</text>
<rect x="62.2" y="643.1" width="30" height="76.1" fill="#a13542"/>
<rect x="109.9" y="647.8" width="29.6" height="71.4" fill="#4d6282"/>
<line x1="45.2" y1="719.2" x2="156.3" y2="719.2" stroke="#2a2a2a" stroke-width="1.3"/>
<line x1="77.2" y1="719.2" x2="77.2" y2="722.2" stroke="#2a2a2a" stroke-width="1.3"/>
<line x1="124.7" y1="719.2" x2="124.7" y2="722.2" stroke="#2a2a2a" stroke-width="1.3"/>
<line x1="77" y1="634.2" x2="77" y2="643.1" stroke="#2e2e2e" stroke-width="1.3"/>
<line x1="69.1" y1="634.2" x2="84.9" y2="634.2" stroke="#2e2e2e" stroke-width="1.3"/>
<line x1="124.6" y1="639.7" x2="124.6" y2="647.8" stroke="#2e2e2e" stroke-width="1.3"/>
<line x1="116.7" y1="639.7" x2="132.5" y2="639.7" stroke="#2e2e2e" stroke-width="1.3"/>
<line x1="73.1" y1="630.4" x2="126.8" y2="630.4" stroke="#333" stroke-width="1.3"/>
<text x="61.63" y="733.6" font-size="8.71" textLength="31" lengthAdjust="spacingAndGlyphs" fill="#1c1c1c">No Drug</text>
<text x="104.71" y="733.6" font-size="8.59" textLength="38.76" lengthAdjust="spacingAndGlyphs" fill="#1c1c1c">Cysteinase</text>
<text x="112.39" y="744" font-size="8.17" textLength="24.99" lengthAdjust="spacingAndGlyphs" fill="#1c1c1c">125nM</text>
<text x="87.36" y="608.7" font-size="9.01" textLength="27.58" lengthAdjust="spacingAndGlyphs" fill="#1c1c1c">CD34+</text>
<text x="92.69" y="626.5" font-size="7.89" textLength="14.94" lengthAdjust="spacingAndGlyphs" fill="#1c1c1c">N.S.</text>
<text x="18.2" y="688.96" font-size="11.1" textLength="38.72" lengthAdjust="spacingAndGlyphs" fill="#1c1c1c" transform="rotate(-90 18.2 688.96)">% viable</text>
<line x1="207.1" y1="619.3" x2="207.1" y2="719.3" stroke="#2a2a2a" stroke-width="1.3"/>
<line x1="203.6" y1="718.8" x2="207.1" y2="718.8" stroke="#2a2a2a" stroke-width="1.3"/>
<text x="195.03" y="721.65" font-size="8.6" textLength="4.78" lengthAdjust="spacingAndGlyphs" fill="#1c1c1c">0</text>
<line x1="203.6" y1="694.75" x2="207.1" y2="694.75" stroke="#2a2a2a" stroke-width="1.3"/>
<text x="190.25" y="697.6" font-size="8.6" textLength="9.57" lengthAdjust="spacingAndGlyphs" fill="#1c1c1c">20</text>
<line x1="203.6" y1="670.7" x2="207.1" y2="670.7" stroke="#2a2a2a" stroke-width="1.3"/>
<text x="190.25" y="673.55" font-size="8.6" textLength="9.57" lengthAdjust="spacingAndGlyphs" fill="#1c1c1c">40</text>
<line x1="203.6" y1="646.65" x2="207.1" y2="646.65" stroke="#2a2a2a" stroke-width="1.3"/>
<text x="190.25" y="649.5" font-size="8.6" textLength="9.57" lengthAdjust="spacingAndGlyphs" fill="#1c1c1c">60</text>
<line x1="203.6" y1="622.6" x2="207.1" y2="622.6" stroke="#2a2a2a" stroke-width="1.3"/>
<text x="190.25" y="625.45" font-size="8.6" textLength="9.57" lengthAdjust="spacingAndGlyphs" fill="#1c1c1c">80</text>
<rect x="223.7" y="641.4" width="30.4" height="77.4" fill="#a13542"/>
<rect x="271.5" y="636.4" width="30.3" height="82.4" fill="#4d6282"/>
<line x1="206.5" y1="718.8" x2="318.7" y2="718.8" stroke="#2a2a2a" stroke-width="1.3"/>
<line x1="238.9" y1="718.8" x2="238.9" y2="721.8" stroke="#2a2a2a" stroke-width="1.3"/>
<line x1="286.65" y1="718.8" x2="286.65" y2="721.8" stroke="#2a2a2a" stroke-width="1.3"/>
<line x1="239.1" y1="633.3" x2="239.1" y2="641.4" stroke="#2e2e2e" stroke-width="1.3"/>
<line x1="231.4" y1="633.3" x2="246.8" y2="633.3" stroke="#2e2e2e" stroke-width="1.3"/>
<line x1="286.7" y1="628.4" x2="286.7" y2="636.4" stroke="#2e2e2e" stroke-width="1.3"/>
<line x1="278.9" y1="628.4" x2="294.5" y2="628.4" stroke="#2e2e2e" stroke-width="1.3"/>
<line x1="231" y1="624.6" x2="294" y2="624.6" stroke="#333" stroke-width="1.3"/>
<text x="221.77" y="733.9" font-size="9.29" textLength="33.91" lengthAdjust="spacingAndGlyphs" fill="#1c1c1c">No Drug</text>
<text x="265.98" y="733.9" font-size="9.15" textLength="41.31" lengthAdjust="spacingAndGlyphs" fill="#1c1c1c">Cysteinase</text>
<text x="271.92" y="744.8" font-size="8.45" textLength="27.84" lengthAdjust="spacingAndGlyphs" fill="#1c1c1c">125nM</text>
<text x="249.27" y="606.8" font-size="8.87" textLength="27.17" lengthAdjust="spacingAndGlyphs" fill="#1c1c1c">CD34+</text>
<text x="255.08" y="621.2" font-size="8.59" textLength="15.05" lengthAdjust="spacingAndGlyphs" fill="#1c1c1c">N.S.</text>
<text x="183.4" y="698.75" font-size="10.9" textLength="60.13" lengthAdjust="spacingAndGlyphs" fill="#1c1c1c" transform="rotate(-90 183.4 698.75)"># of colonies</text>
<line x1="376.8" y1="619.4" x2="376.8" y2="720.4" stroke="#2a2a2a" stroke-width="1.3"/>
<line x1="373.3" y1="719.9" x2="376.8" y2="719.9" stroke="#2a2a2a" stroke-width="1.3"/>
<text x="354.61" y="722.75" font-size="8.2" textLength="15.48" lengthAdjust="spacingAndGlyphs" fill="#1c1c1c">0.00</text>
<line x1="373.3" y1="700.56" x2="376.8" y2="700.56" stroke="#2a2a2a" stroke-width="1.3"/>
<text x="354.65" y="703.41" font-size="8.2" textLength="15.48" lengthAdjust="spacingAndGlyphs" fill="#1c1c1c">0.25</text>
<line x1="373.3" y1="681.22" x2="376.8" y2="681.22" stroke="#2a2a2a" stroke-width="1.3"/>
<text x="354.61" y="684.07" font-size="8.2" textLength="15.48" lengthAdjust="spacingAndGlyphs" fill="#1c1c1c">0.50</text>
<line x1="373.3" y1="661.88" x2="376.8" y2="661.88" stroke="#2a2a2a" stroke-width="1.3"/>
<text x="354.65" y="664.73" font-size="8.2" textLength="15.48" lengthAdjust="spacingAndGlyphs" fill="#1c1c1c">0.75</text>
<line x1="373.3" y1="642.54" x2="376.8" y2="642.54" stroke="#2a2a2a" stroke-width="1.3"/>
<text x="354.61" y="645.39" font-size="8.2" textLength="15.48" lengthAdjust="spacingAndGlyphs" fill="#1c1c1c">1.00</text>
<line x1="373.3" y1="623.2" x2="376.8" y2="623.2" stroke="#2a2a2a" stroke-width="1.3"/>
<text x="354.65" y="626.05" font-size="8.2" textLength="15.48" lengthAdjust="spacingAndGlyphs" fill="#1c1c1c">1.25</text>
<rect x="393.9" y="643.3" width="31" height="76.6" fill="#a13542"/>
<rect x="442.9" y="644.6" width="30.7" height="75.3" fill="#4d6282"/>
<line x1="376.2" y1="719.9" x2="490.8" y2="719.9" stroke="#2a2a2a" stroke-width="1.3"/>
<line x1="409.4" y1="719.9" x2="409.4" y2="722.9" stroke="#2a2a2a" stroke-width="1.3"/>
<line x1="458.25" y1="719.9" x2="458.25" y2="722.9" stroke="#2a2a2a" stroke-width="1.3"/>
<line x1="409.4" y1="641" x2="409.4" y2="643.3" stroke="#2e2e2e" stroke-width="1.3"/>
<line x1="401.3" y1="641" x2="417.5" y2="641" stroke="#2e2e2e" stroke-width="1.3"/>
<line x1="457.8" y1="642.3" x2="457.8" y2="644.6" stroke="#2e2e2e" stroke-width="1.3"/>
<line x1="450.1" y1="642.3" x2="465.5" y2="642.3" stroke="#2e2e2e" stroke-width="1.3"/>
<line x1="408.6" y1="635.9" x2="464.7" y2="635.9" stroke="#333" stroke-width="1.3"/>
<text x="391.17" y="735" font-size="9" textLength="33.8" lengthAdjust="spacingAndGlyphs" fill="#1c1c1c">No Drug</text>
<text x="437.28" y="735" font-size="8.87" textLength="41.41" lengthAdjust="spacingAndGlyphs" fill="#1c1c1c">Cysteinase</text>
<text x="442.9" y="745.7" font-size="8.31" textLength="28.36" lengthAdjust="spacingAndGlyphs" fill="#1c1c1c">125nM</text>
<text x="418.37" y="606.9" font-size="9.01" textLength="27.27" lengthAdjust="spacingAndGlyphs" fill="#1c1c1c">CD34+</text>
<text x="429.28" y="632.6" font-size="8.17" textLength="15.05" lengthAdjust="spacingAndGlyphs" fill="#1c1c1c">N.S.</text>
<text x="346.1" y="693.29" font-size="11.3" textLength="56.5" lengthAdjust="spacingAndGlyphs" fill="#1c1c1c" transform="rotate(-90 346.1 693.29)">Relative ATP</text>
<rect x="0" y="0" width="520" height="2" fill="#5e5e5e"/>
<rect x="0" y="0" width="2" height="753" fill="#5e5e5e"/>
<rect x="519" y="0" width="1" height="753" fill="#0a0a0a"/>
<rect x="0" y="752" width="520" height="1" fill="#0a0a0a"/>
</svg></body></html>
